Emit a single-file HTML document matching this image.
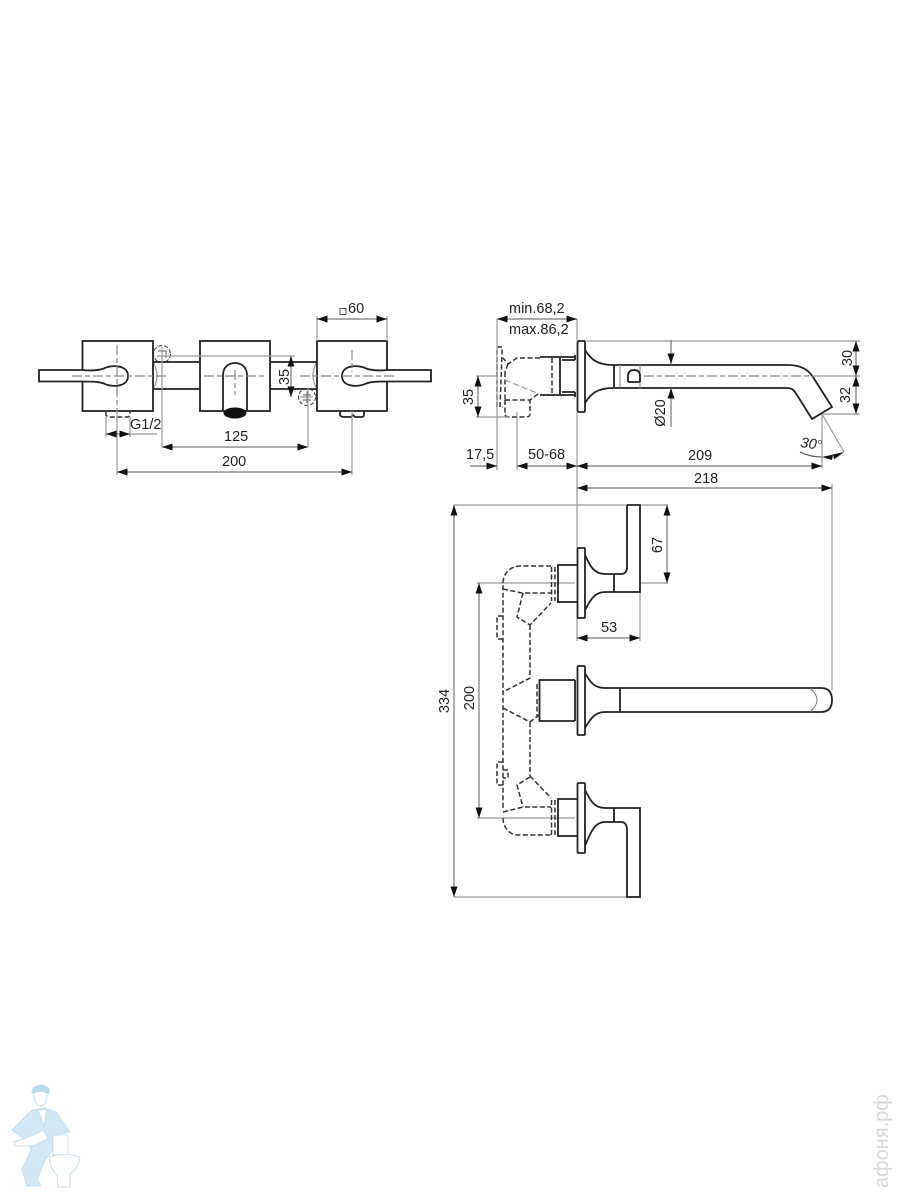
<!DOCTYPE html>
<html>
<head>
<meta charset="utf-8">
<style>
html,body{margin:0;padding:0;background:#fff;width:900px;height:1200px;overflow:hidden}
svg{display:block}
text{font-family:"Liberation Sans",sans-serif;font-size:14.5px;fill:#222}
.o{fill:none;stroke:#222;stroke-width:1.8}
.f{fill:#fff;stroke:#222;stroke-width:1.8}
.d{fill:none;stroke:#333;stroke-width:1.5;stroke-dasharray:5 2.5}
.t{fill:none;stroke:#999;stroke-width:1.2}
.c{fill:none;stroke:#888;stroke-width:1.2;stroke-dasharray:10 3 5 3}
.m{fill:none;stroke:#777;stroke-width:1.2;marker-start:url(#a);marker-end:url(#a)}
.e{fill:none;stroke:#777;stroke-width:1.2;marker-end:url(#a)}
</style>
</head>
<body>
<svg width="900" height="1200" viewBox="0 0 900 1200" xmlns="http://www.w3.org/2000/svg">
<defs>
<marker id="a" markerUnits="userSpaceOnUse" markerWidth="11" markerHeight="7" refX="10.500" refY="3.500" orient="auto-start-reverse">
<path d="M0 0L10.500 3.500L0 7Z" fill="#111"/>
</marker>
</defs>

<!-- FRONT VIEW -->
<path class="o" d="M153 362H200M153 389H200M270 362H317M270 389H317"/>
<path class="t" d="M153 362Q161 376 153 389M317 362Q309 376 317 389"/>
<rect class="f" x="82.500" y="341" width="70.500" height="70"/>
<rect class="f" x="200" y="341" width="70" height="70"/>
<rect class="f" x="317" y="341" width="70" height="70"/>
<path class="f" d="M39 370H82C92 371 98 370.500 104 368.500C110 365 128 364 128 376C128 388 110 387 104 383.500C98 381.500 92 381.500 82 381.500H39Z"/>
<path class="f" d="M431 370H388C378 371 372 370.500 366 368.500C360 365 342 364 342 376C342 388 360 387 366 383.500C372 381.500 378 381.500 388 381.500H431Z"/>
<path class="o" d="M223 411V375C223 367 229 363 235 363C241 363 247 367 247 375V411"/>
<ellipse cx="235" cy="413" rx="11.500" ry="5.500" fill="#111"/>
<path class="d" d="M106 412V415Q107 417 110 417H127Q130 417 130 414V412"/>
<path class="o" d="M340 411V415Q341 417 344 417H351L353 415L355 417H362Q364 417 364 414V411" stroke-width="1.300"/>
<path class="c" d="M72 376H166M204 376H266M300 376H395"/>
<path class="c" d="M117 345V420M235 370V395M352 350V372"/>
<circle cx="162" cy="354" r="8.500" fill="none" stroke="#333" stroke-dasharray="4 2"/>
<circle cx="307" cy="397" r="8.500" fill="none" stroke="#333" stroke-dasharray="4 2"/>
<path d="M158 351H166V358M162 348V360M303 395H311M307 391V403M303 400H311" fill="none" stroke="#555" stroke-width="0.900"/>
<path class="t" d="M157 356H295M300 397H313M162 347V447M308 388V447M117 411V475M352 411V475M106 417V437M130 417V437M317 341V316M387 341V316"/>
<path class="m" d="M317 319H387"/>
<path class="m" d="M291 356V397"/>
<path class="m" d="M162 447H308"/>
<path class="m" d="M117 472H352"/>
<path class="m" d="M106 434H130"/>
<path class="t" d="M130 434H157"/>
<rect x="340" y="308.500" width="6" height="6" fill="none" stroke="#444" stroke-width="0.900"/>
<text x="348" y="313">60</text>
<text x="130" y="429">G1/2</text>
<text x="224" y="441">125</text>
<text x="222" y="466">200</text>
<text transform="translate(289 377) rotate(-90)" text-anchor="middle">35</text>

<!-- SIDE VIEW -->
<path class="f" d="M577.500 343Q577.500 341 579 341H584Q585 341 585 343V410Q585 412 584 412H579Q577.500 412 577.500 410Z"/>
<path class="o" d="M585 350C590 358 596 365 613 365H788C800 365 808 369 813 377L832 407L812 419L797 395C794 390 792 388 787 388H613C596 388 590 395 585 403"/>
<path class="o" d="M614 365V387" stroke-width="1.300"/>
<path class="t" d="M620 365V387M640 365V388"/>
<path class="o" d="M628 382V376Q628 370 634 370Q640 370 640 376V382M628 382H640" stroke-width="1"/>
<path class="o" d="M540 357H575M540 395H575M560 358V395M575 355V360M575 392V397"/>
<path class="o" d="M562 360H575M562 392H575" stroke-width="1"/>
<path class="d" d="M552 358V396" stroke-width="2"/>
<path class="d" d="M540 358L517 358L508 364L503 358M508 364L505 372"/>
<path class="d" d="M497 407V347H502V355L500 407H503"/>
<path class="d" d="M505 372V400M505 400V415Q506 417 510 417H526Q530 417 530 414V400M505 400H530L538 394"/>
<path class="t" stroke-dasharray="6 3" d="M505 380L537 393"/>
<path class="c" d="M644 376H815"/>
<path class="t" d="M585 341H860M813 376H860M822 414H860M476 376H497M476 417H510M497 319V470M517 412V470M577 319V341M577 412V492M832 484V690M822 414V468M822 414L844 452"/>
<path class="m" d="M497 319H577"/>
<path class="m" d="M478 376V417"/>
<path class="e" d="M470 466H497"/>
<path class="e" d="M545 466H517"/>
<path class="e" d="M545 466H577"/>
<path class="e" d="M700 466H577"/>
<path class="e" d="M700 466H822"/>
<path class="m" d="M577 488H832"/>
<path class="e" d="M856 358V341"/>
<path class="e" d="M856 358V376"/>
<path class="m" d="M856 376V414"/>
<path class="e" d="M671 340V364"/>
<path class="e" d="M671 427V388"/>
<path d="M800 452Q810 457 822 457" fill="none" stroke="#555" stroke-width="1"/>
<path d="M822 457L833 454.500L832 460ZM844 452L833 454.500L834 459.500Z" fill="#111"/>
<text x="509" y="313">min.68,2</text>
<text x="509" y="334">max.86,2</text>
<text x="466" y="459">17,5</text>
<text x="528" y="459">50-68</text>
<text x="688" y="460">209</text>
<text x="694" y="483">218</text>
<text transform="translate(473 397) rotate(-90)" text-anchor="middle">35</text>
<text transform="translate(852 358) rotate(-90)" text-anchor="middle">30</text>
<text transform="translate(850 395) rotate(-90)" text-anchor="middle">32</text>
<text transform="translate(665 413) rotate(-90)" text-anchor="middle">Ø20</text>
<text x="800" y="447" font-style="italic" transform="rotate(8 800 447)">30</text>
<circle cx="820" cy="442" r="1.500" fill="none" stroke="#555" stroke-width="0.800"/>

<!-- TOP VIEW -->
<path class="t" d="M577 488V548M454 505H627M640 505H668M640 583H668M640 592V641M577 618V641M477 583H575M477 818H575M454 897H627"/>
<path class="m" d="M454 505V897"/>
<path class="m" d="M479 583V818"/>
<path class="m" d="M667 505V583"/>
<path class="m" d="M577 638H640"/>
<text x="601" y="632">53</text>
<text transform="translate(662 545) rotate(-90)" text-anchor="middle">67</text>
<text transform="translate(474 698) rotate(-90)" text-anchor="middle">200</text>
<text transform="translate(449 701) rotate(-90)" text-anchor="middle">334</text>
<!-- upper handle -->
<path class="o" d="M627 505H640V592H605C594 592 590 601 585 610M585 555C590 566 594 574 605 574H621Q627 574 627 567V505"/>
<path class="o" d="M614 574V592" stroke-width="1.300"/>
<rect class="f" x="577.500" y="548" width="7.500" height="70" rx="1"/>
<path class="o" d="M577 565H558V602H577"/>
<path class="d" d="M555 567V601M551.500 567V601" stroke-width="2" stroke-dasharray="3 2"/>
<path class="d" d="M551 566H520C510 566 503 574 503 583V810"/>
<path class="d" d="M503 589L522 593H551M523 593L517 617L530 625L551 603M530 625V678L503 692M503 708L530 722L539 715M530 722V776"/>
<path class="d" d="M503 616H497V639H503"/>
<!-- middle -->
<path class="o" d="M605 688H821Q832 688 832 700Q832 712 821 712H605C594 712 590 720 585 728M585 673C590 682 594 688 605 688"/>
<path class="o" d="M620 688V712" stroke-width="1.300"/>
<path d="M810 688Q824 700 810 712" fill="none" stroke="#777" stroke-width="1"/>
<rect class="f" x="577.500" y="666" width="7.500" height="69" rx="1"/>
<path class="o" d="M575 680H539.500V721H575M575 680V721"/>
<path class="d" d="M537 684V716" stroke-width="2.500" stroke-dasharray="3 2"/>
<!-- lower handle -->
<path class="o" d="M585 790C590 800 594 808 605 808H640V897H627V830Q627 822 621 822H605C594 822 590 834 585 846"/>
<path class="o" d="M614 808V822" stroke-width="1.300"/>
<rect class="f" x="577.500" y="783" width="7.500" height="70" rx="1"/>
<path class="o" d="M577 799H558V836H577"/>
<path class="d" d="M555 800V835M551.500 800V835" stroke-width="2" stroke-dasharray="3 2"/>
<path class="d" d="M530 776L551 798M530 777L517 785L523 807M503 812L523 807H551M503 818C503 828 510 835 518 835H551"/>
<path class="d" d="M503 762H497V785H503M503 770H508V778H503"/>

<!-- WATERMARK MASCOT -->
<g fill="#d3e8f6" stroke="#bcdaee" stroke-width="0.800">
<path d="M32 1094Q31 1086 41 1085Q51 1086 49 1094Q45 1090 40 1091Q35 1091 32 1094Z" fill="#bcdaee"/>
<path d="M34 1093Q34 1106 41 1106Q47 1105 47 1093Q41 1090 34 1093Z" fill="#fff"/>
<path d="M32 1110L44 1108L56 1112L70 1132L60 1134L54 1136L53 1150L45 1160L37 1180L41 1186H27L22 1169L31 1150L28 1142L12 1130Z"/>
<path d="M14 1142L34 1135L43 1130L48 1138L34 1146L15 1146Z" fill="#fff"/>
<path d="M38 1110L44 1126L47 1110Z" fill="#fff"/>
<path d="M53 1135H68V1155H53Z" fill="#fff"/>
<path d="M49 1157Q64 1152 80 1157Q79 1168 70 1174L70 1187H58L57 1176Q50 1168 49 1157Z" fill="#fff"/>
</g>
<text transform="translate(888 1188) rotate(-90)" style="font-size:20px;fill:#d8d8d8">афоня.рф</text>
</svg>
</body>
</html>
